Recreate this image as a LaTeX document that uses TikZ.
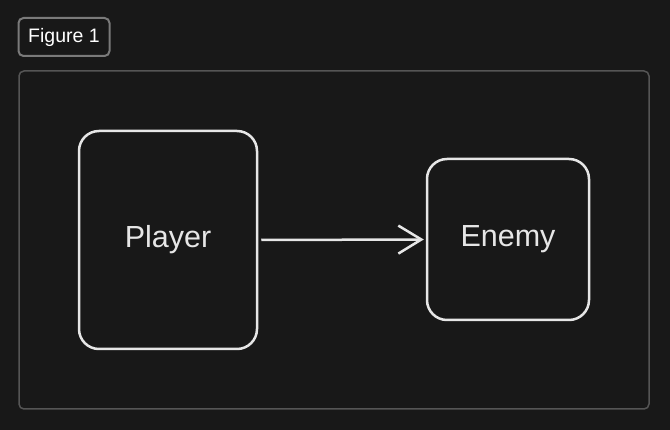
\documentclass[tikz,border=0pt]{standalone}
\usepackage{fontspec}
\setmainfont{Liberation Sans}
\usetikzlibrary{arrows.meta}
\definecolor{bg}{HTML}{181818}
\definecolor{ink}{HTML}{E6E6E6}
\definecolor{frame}{HTML}{555555}
\definecolor{tag}{HTML}{7A7A7A}
\tikzset{entity/.style={draw=ink,line width=2.5pt,rounded corners=20pt,text=ink,font=\fontsize{30.5}{36}\selectfont}}
\begin{document}
\begin{tikzpicture}[x=1pt,y=-1pt]
\fill[bg] (0,0) rectangle (670,430);
\useasboundingbox (0,0) rectangle (670,430);
\draw[frame,line width=1.5pt,rounded corners=5pt] (19,71) rectangle (649,409);
\node[draw=tag,line width=2pt,rounded corners=5pt,text=white,font=\fontsize{19.5}{23}\selectfont,minimum width=91pt,minimum height=38pt] (fig) at (64,37) {Figure 1};
\node[entity,minimum width=178pt,minimum height=218pt] (player) at (168,240) {Player};
\node[entity,minimum width=162pt,minimum height=161pt] (enemy) at (508,239.5) {Enemy};
\draw[ink,line width=2.5pt,-{Straight Barb[length=23pt,width=28pt,line width=2.5pt]}] ([xshift=3pt]player.east) -- ([xshift=-2pt]enemy.west);
\end{tikzpicture}
\end{document}
